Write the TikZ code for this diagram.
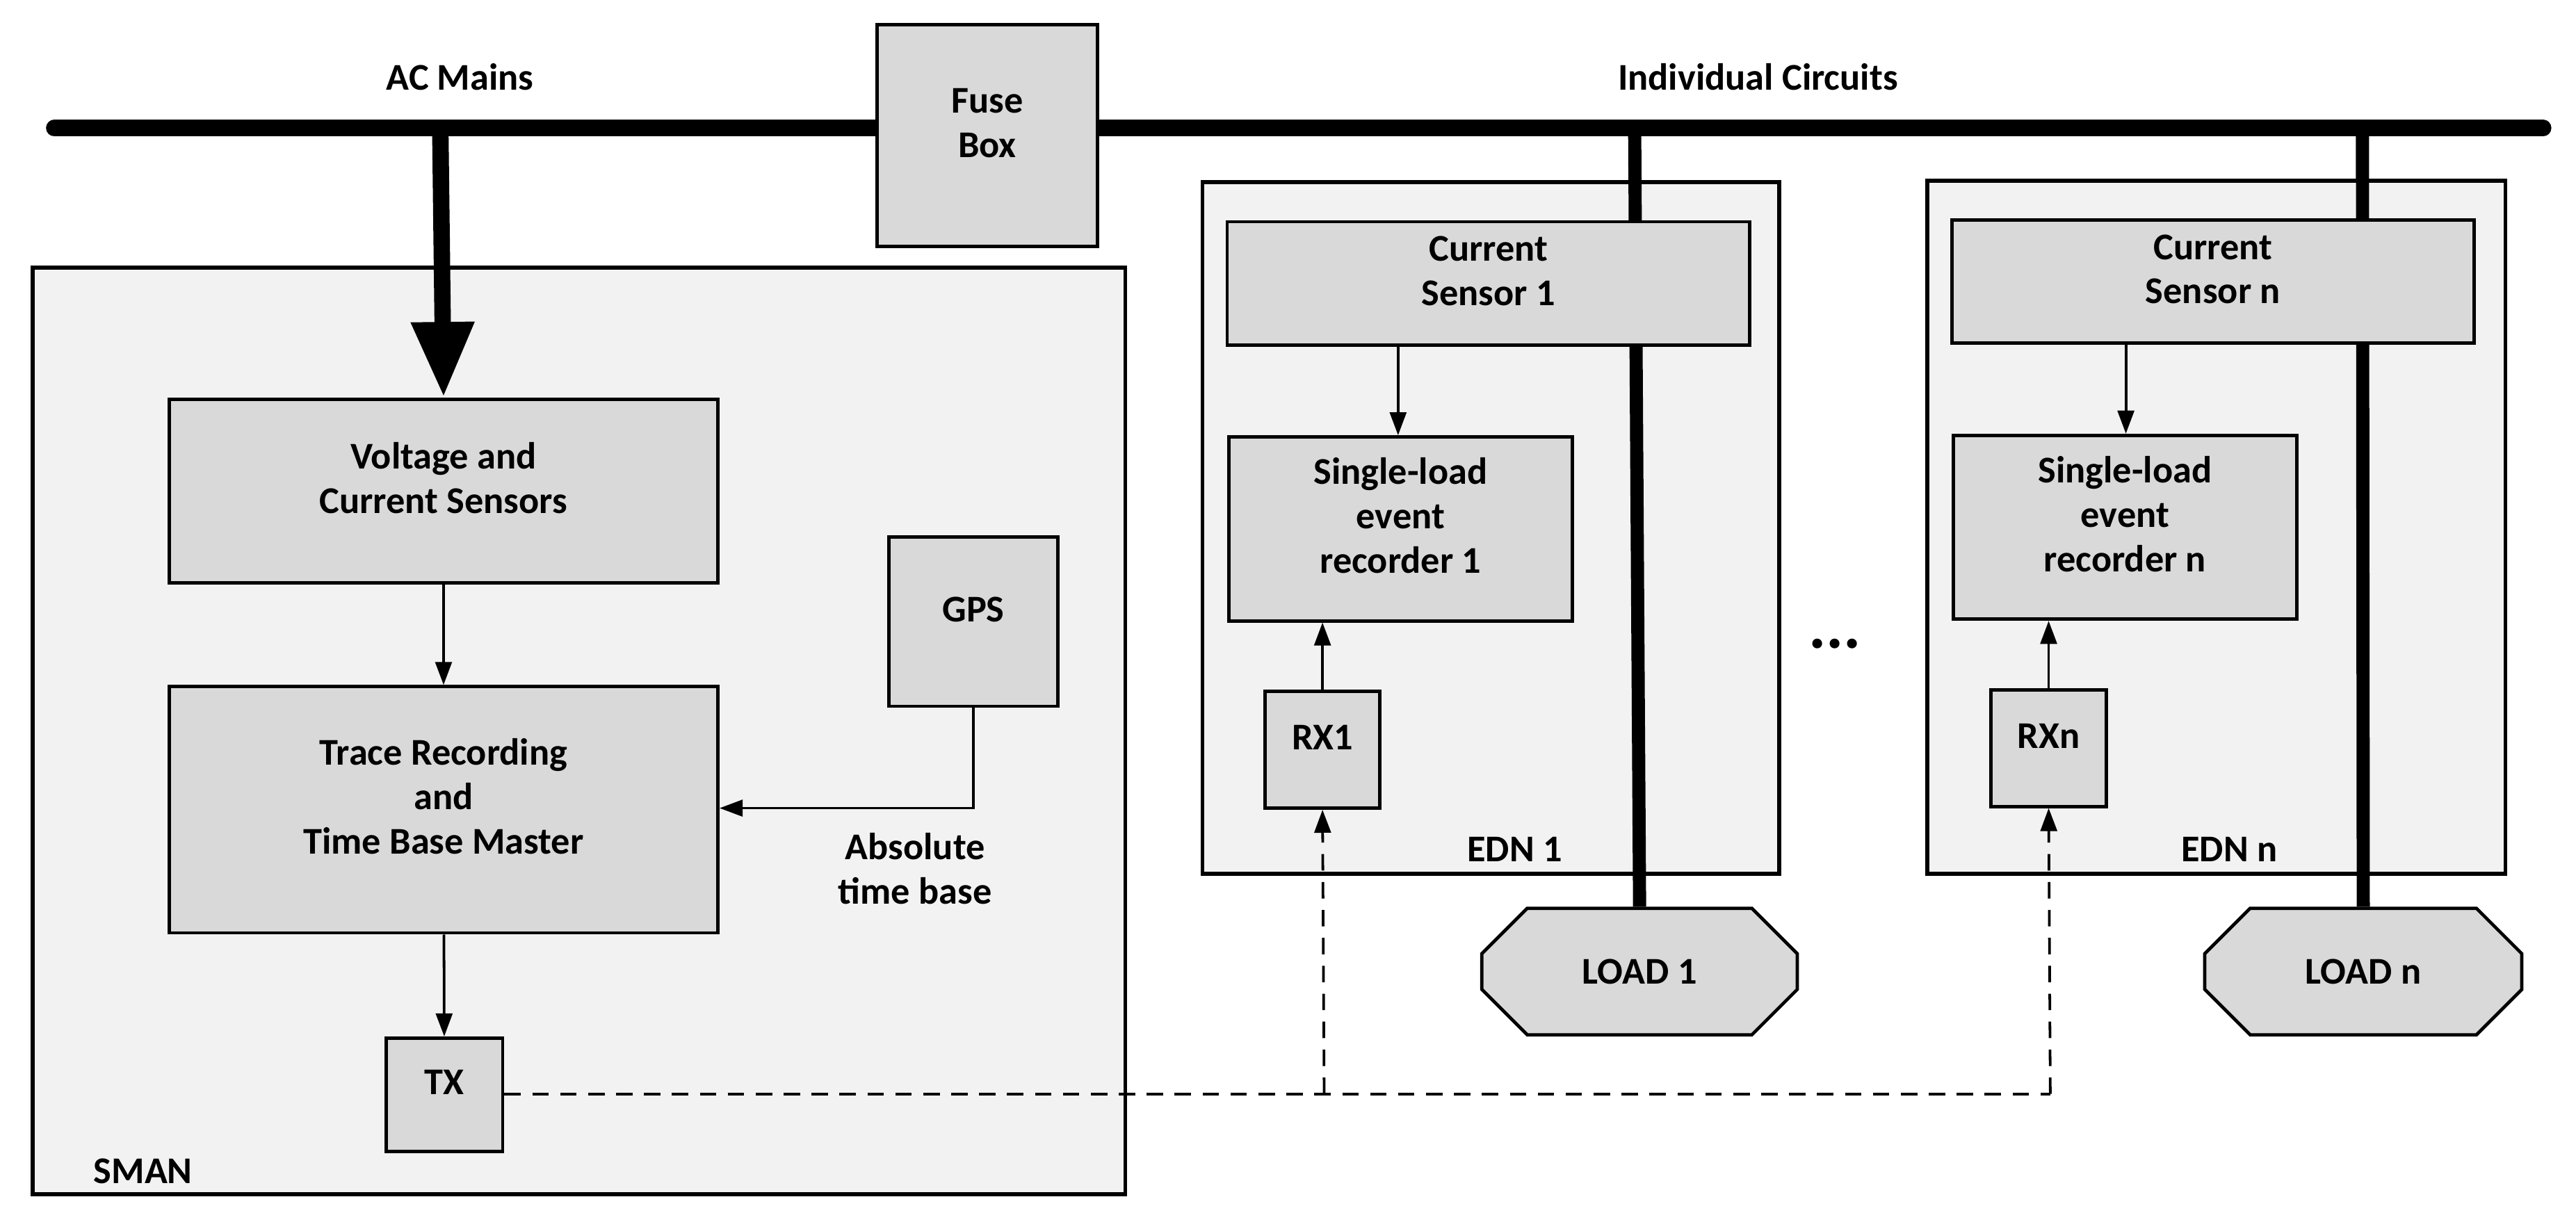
\documentclass[tikz,border=0pt]{standalone}
\usepackage{fontspec}
\setmainfont{Carlito}
\usetikzlibrary{arrows.meta,fit,shapes.misc}
\definecolor{boxc}{HTML}{D9D9D9}
\definecolor{outc}{HTML}{F2F2F2}
\begin{document}
\begin{tikzpicture}[x=0.5pt,y=-0.5pt,
  box/.style={draw,line width=1pt,fill=boxc,inner sep=0pt,align=center,font=\fontsize{11.5}{13.5}\selectfont\bfseries},
  outer/.style={draw,line width=1.2pt,fill=outc,inner sep=0pt},
  lbl/.style={font=\fontsize{11.5}{13.5}\selectfont\bfseries,align=center},
  arr/.style={line width=0.8pt,-{Triangle[length=7pt,width=5pt]}},
  dsh/.style={line width=0.8pt,dash pattern=on 5pt off 3.5pt},
  power/.style={line width=4pt}]
\useasboundingbox (0,0) rectangle (1568,738.5);
% outer boxes
\node[outer,fit={(20,163)(685,727)}] (sman) {};
\node[lbl,anchor=west] (smanl) at (50,713) {SMAN};
\node[outer,fit={(732,111)(1083,532)}] (edn1) {};
\node[outer,fit={(1173,110)(1525,532)}] (ednn) {};
\node[lbl] (edn1l) at (922,517) {EDN 1};
\node[lbl] (ednnl) at (1357,517) {EDN n};
% loads
\node[draw,line width=1pt,fill=boxc,chamfered rectangle,chamfered rectangle xsep=10pt,chamfered rectangle ysep=10pt,inner sep=0pt,minimum width=96pt,minimum height=38.5pt,font=\fontsize{11.5}{13.5}\selectfont\bfseries] (load1) at (998,591.5) {LOAD 1};
\node[draw,line width=1pt,fill=boxc,chamfered rectangle,chamfered rectangle xsep=10pt,chamfered rectangle ysep=10pt,inner sep=0pt,minimum width=96.5pt,minimum height=38.5pt,font=\fontsize{11.5}{13.5}\selectfont\bfseries] (loadn) at (1438.5,591.5) {LOAD n};
% bus
\coordinate (busL) at (33,78);
\coordinate (busR) at (1548,78);
\draw[line width=5pt,line cap=round] (busL) -- (busR);
\node[lbl] (acm) at (280,47) {AC Mains};
\node[lbl] (indc) at (1070,47) {Individual Circuits};
\node[box,fit={(534,15)(668,150)}] (fuse) {Fuse\\Box};
% vertical power lines
\coordinate (t1) at (995,78);
\coordinate (tn) at (1438,78);
\draw[power] (t1) -- (load1.north);
\draw[power] (tn) -- (loadn.north);
% SMAN contents
\node[box,fit={(103,243)(437,355)}] (vcs) {Voltage and\\Current Sensors};
\coordinate (tm) at (268,78);
\draw[line width=5pt,-{Triangle[length=23pt,width=18pt]}] (tm) -- (vcs.north);
\node[box,fit={(103,418)(437,568)}] (trm) {Trace Recording\\and\\Time Base Master};
\node[box,fit={(541,327)(644,430)}] (gps) {GPS};
\node[box,fit={(235,632)(306,701)}] (tx) {TX};
\draw[arr] (vcs) -- (trm);
\draw[arr] (trm) -- (tx);
\draw[arr] (gps.south) |- (trm.east |- 0,492);
\node[lbl] (abs) at (557,529) {Absolute\\time base};
% EDN 1
\node[box,fit={(747,135)(1065,210)}] (cs1) {Current\\Sensor 1};
\node[box,fit={(748,266)(957,378)}] (sl1) {Single-load\\event\\recorder 1};
\node[box,fit={(770,421)(840,492)}] (rx1) {RX1};
\draw[arr] (cs1.south -| 851,0) -- (sl1.north -| 851,0);
\draw[arr] (rx1.north) -- (sl1.south -| rx1.north);
% EDN n
\node[box,fit={(1188,134)(1506,209)}] (csn) {Current\\Sensor n};
\node[box,fit={(1189,265)(1398,377)}] (sln) {Single-load\\event\\recorder n};
\node[box,fit={(1212,420)(1282,491)}] (rxn) {RXn};
\draw[arr] (csn.south -| 1294,0) -- (sln.north -| 1294,0);
\draw[arr] (rxn.north) -- (sln.south -| rxn.north);
\node[font=\fontsize{20}{20}\selectfont\bfseries] (dots) at (1117,392) {...};
% wireless
\coordinate (j1) at (806,666);
\coordinate (jn) at (1248,666);
\draw[dsh] (tx.east |- j1) -- (jn);
\draw[dsh,-{Triangle[length=7pt,width=5pt]}] (j1) -- (rx1.south);
\draw[dsh,-{Triangle[length=7pt,width=5pt]}] (jn) -- (rxn.south);
\end{tikzpicture}
\end{document}
